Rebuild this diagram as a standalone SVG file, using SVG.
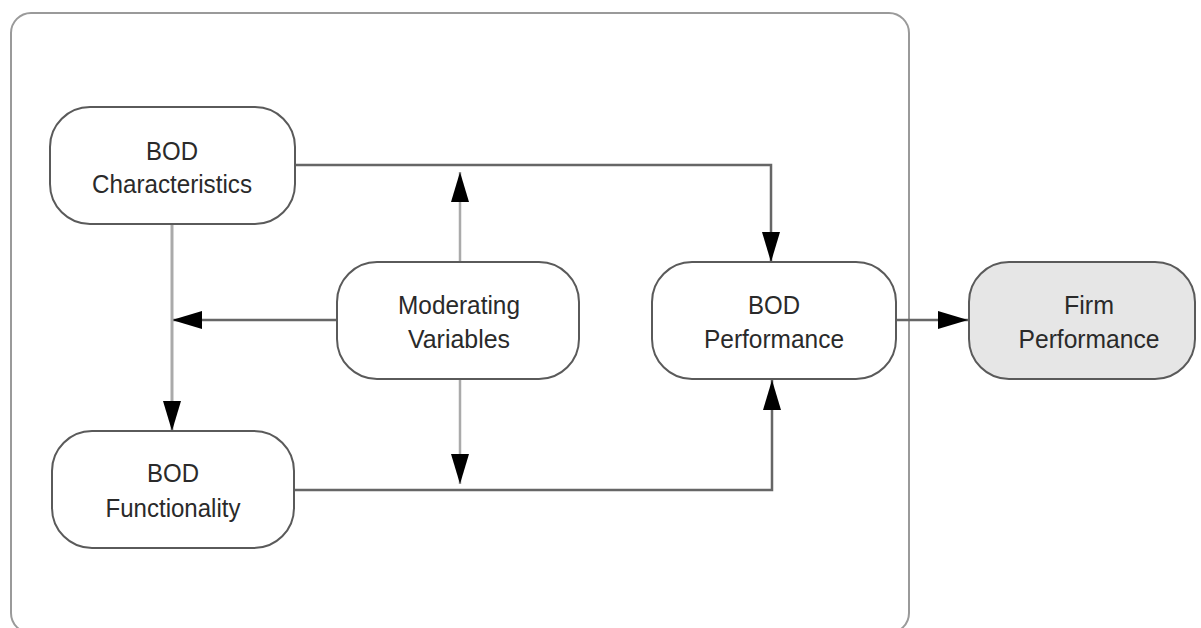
<svg xmlns="http://www.w3.org/2000/svg" width="1201" height="628" viewBox="0 0 1201 628">
  <style>
    .frame { fill: #ffffff; stroke: #9a9a9a; stroke-width: 2; }
    .node { fill: #ffffff; stroke: #5a5a5a; stroke-width: 2; }
    .node.shade { fill: #e6e6e6; }
    .label { font-family: "Liberation Sans", Arial, sans-serif; font-size: 26px; fill: #2a2a2a; text-anchor: middle; }
    .edge { fill: none; stroke: #666666; stroke-width: 2.5; }
    .edge.light { stroke: #aaaaaa; }
  </style>
  <defs>
    <marker id="arrow" viewBox="0 0 30 18" refX="30" refY="9" markerWidth="30" markerHeight="18" markerUnits="userSpaceOnUse" orient="auto">
      <path d="M0,0 L30,9 L0,18 z" fill="#000000"/>
    </marker>
  </defs>

  <rect width="1201" height="628" fill="#ffffff"/>

  <!-- enclosing board boundary -->
  <rect class="frame" x="11" y="13" width="898" height="620" rx="20"/>

  <!-- connectors -->
  <g id="connectors">
    <path class="edge" d="M295,165 H771 V262" marker-end="url(#arrow)"/>
    <path class="edge light" d="M460,262 V172" marker-end="url(#arrow)"/>
    <path class="edge light" d="M460,379 V484" marker-end="url(#arrow)"/>
    <path class="edge" d="M337,320 H172" marker-end="url(#arrow)"/>
    <path class="edge light" d="M172,224 V431" marker-end="url(#arrow)" style="stroke-width:3"/>
    <path class="edge" d="M294,490 H772 V380" marker-end="url(#arrow)"/>
    <path class="edge" d="M896,320 H968" marker-end="url(#arrow)"/>
  </g>

  <g id="bod-characteristics">
    <rect class="node" x="50" y="107" width="245" height="117" rx="40"/>
    <text class="label" x="172" y="160" textLength="52" lengthAdjust="spacingAndGlyphs">BOD</text>
    <text class="label" x="172" y="193" textLength="160" lengthAdjust="spacingAndGlyphs">Characteristics</text>
  </g>

  <g id="moderating-variables">
    <rect class="node" x="337" y="262" width="242" height="117" rx="40"/>
    <text class="label" x="459" y="314" textLength="122" lengthAdjust="spacingAndGlyphs">Moderating</text>
    <text class="label" x="459" y="348" textLength="102" lengthAdjust="spacingAndGlyphs">Variables</text>
  </g>

  <g id="bod-performance">
    <rect class="node" x="652" y="262" width="244" height="117" rx="40"/>
    <text class="label" x="774" y="314" textLength="52" lengthAdjust="spacingAndGlyphs">BOD</text>
    <text class="label" x="774" y="348" textLength="140" lengthAdjust="spacingAndGlyphs">Performance</text>
  </g>

  <g id="firm-performance">
    <rect class="node shade" x="969" y="262" width="226" height="117" rx="40"/>
    <text class="label" x="1089" y="314" textLength="50" lengthAdjust="spacingAndGlyphs">Firm</text>
    <text class="label" x="1089" y="348" textLength="141" lengthAdjust="spacingAndGlyphs">Performance</text>
  </g>

  <g id="bod-functionality">
    <rect class="node" x="52" y="431" width="242" height="117" rx="40"/>
    <text class="label" x="173" y="482" textLength="52" lengthAdjust="spacingAndGlyphs">BOD</text>
    <text class="label" x="173" y="517" textLength="135" lengthAdjust="spacingAndGlyphs">Functionality</text>
  </g>
</svg>
